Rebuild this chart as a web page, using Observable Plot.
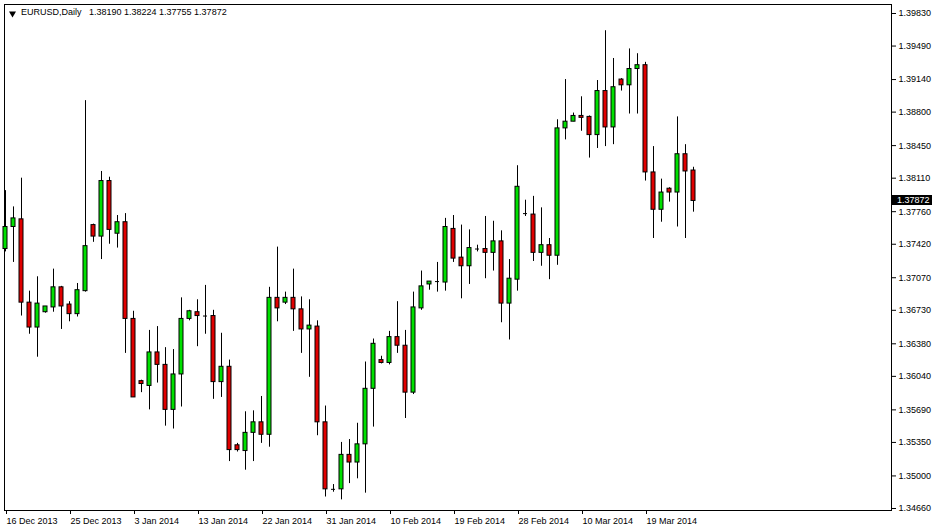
<!DOCTYPE html>
<html><head><meta charset="utf-8">
<script src="https://cdn.jsdelivr.net/npm/d3@7"></script>
<script src="https://cdn.jsdelivr.net/npm/@observablehq/plot@0.6"></script>
<style>
body{margin:0;background:#fff;}
#chart svg{display:block;}
</style>
</head><body><div id="chart"></div>
<script>
const symbolName = "EURUSD,Daily";
const lastQuote = [1.38190, 1.38224, 1.37755, 1.37872];

const dateLabels = ["16 Dec 2013","25 Dec 2013","3 Jan 2014","13 Jan 2014","22 Jan 2014","31 Jan 2014","10 Feb 2014","19 Feb 2014","28 Feb 2014","10 Mar 2014","19 Mar 2014"];
const dateTickBars = [0,8,16,24,32,40,48,56,64,72,80];
const priceTicks = [1.39830,1.39490,1.39140,1.38800,1.38450,1.38110,1.37760,1.37420,1.37070,1.36730,1.36380,1.36040,1.35690,1.35350,1.35000,1.34660];

const open = [
1.3737,1.3760,1.3768,1.3681,1.3655,1.3671,1.3676,1.3697,1.3679,1.3669,
1.3693,1.3762,1.3750,1.3808,1.3753,1.3765,1.3664,1.3599,1.3594,1.3629,
1.3616,1.3569,1.3606,1.3664,1.3671,1.3667,1.3667,1.3598,1.3614,1.3532,
1.3526,1.3545,1.3556,1.3543,1.3686,1.3681,1.3686,1.3674,1.3653,1.3656,
1.3556,1.3486,1.3486,1.3522,1.3514,1.3533,1.3591,1.3621,1.3618,1.3645,
1.3636,1.3587,1.3675,1.3700,1.3703,1.3702,1.3758,1.3728,1.3719,1.3737,
1.3737,1.3733,1.3745,1.3680,1.3705,1.3774,1.3773,1.3733,1.3741,1.3730,
1.3863,1.3870,1.3876,1.3875,1.3856,1.3902,1.3864,1.3914,1.3908,1.3925,
1.3929,1.3817,1.3778,1.3800,1.3796,1.3836,1.38190];
const high = [
1.3798,1.3781,1.3811,1.3693,1.3708,1.3677,1.3716,1.3698,1.3682,1.3701,
1.3892,1.3763,1.3818,1.3812,1.3772,1.3774,1.3672,1.3600,1.3652,1.3656,
1.3634,1.3632,1.3686,1.3673,1.3684,1.3699,1.3673,1.3649,1.3621,1.3534,
1.3567,1.3568,1.3583,1.3697,1.3739,1.3692,1.3716,1.3687,1.3684,1.3662,
1.3573,1.3491,1.3535,1.3538,1.3555,1.3619,1.3643,1.3625,1.3651,1.3682,
1.3652,1.3692,1.3714,1.3703,1.3723,1.3769,1.3772,1.3762,1.3757,1.3741,
1.3771,1.3766,1.3756,1.3726,1.3824,1.3788,1.3792,1.3780,1.3748,1.3872,
1.3914,1.3879,1.3896,1.3876,1.3913,1.3965,1.3936,1.3915,1.3946,1.3941,
1.3932,1.3844,1.3810,1.3801,1.3875,1.3846,1.38224];
const low = [
1.3734,1.3723,1.3667,1.3648,1.3624,1.3670,1.3671,1.3653,1.3661,1.3666,
1.3692,1.3744,1.3726,1.3742,1.3738,1.3628,1.3582,1.3587,1.3569,1.3597,
1.3552,1.3549,1.3572,1.3662,1.3635,1.3648,1.3580,1.3582,1.3515,1.3525,
1.3506,1.3515,1.3534,1.3530,1.3661,1.3679,1.3651,1.3628,1.3603,1.3542,
1.3478,1.3483,1.3475,1.3492,1.3497,1.3482,1.3551,1.3617,1.3616,1.3628,
1.3560,1.3585,1.3673,1.3694,1.3692,1.3693,1.3723,1.3685,1.3700,1.3734,
1.3706,1.3714,1.3660,1.3642,1.3693,1.3771,1.3724,1.3719,1.3705,1.3720,
1.3851,1.3870,1.3860,1.3832,1.3842,1.3844,1.3846,1.3902,1.3878,1.3878,
1.3808,1.3748,1.3765,1.3786,1.3760,1.3748,1.37755];
const close = [
1.3760,1.3769,1.3681,1.3655,1.3680,1.3677,1.3697,1.3677,1.3669,1.3694,
1.3740,1.3750,1.3808,1.3757,1.3765,1.3664,1.3582,1.3596,1.3629,1.3616,
1.3569,1.3606,1.3664,1.3672,1.3667,1.3667,1.3598,1.3614,1.3527,1.3527,
1.3545,1.3556,1.3543,1.3686,1.3675,1.3686,1.3674,1.3653,1.3657,1.3556,
1.3486,1.3486,1.3522,1.3514,1.3533,1.3591,1.3638,1.3618,1.3645,1.3636,
1.3587,1.3676,1.3698,1.3703,1.3703,1.3760,1.3727,1.3719,1.3738,1.3737,
1.3733,1.3745,1.3680,1.3706,1.3802,1.3774,1.3733,1.3741,1.3730,1.3863,
1.3870,1.3876,1.3874,1.3856,1.3902,1.3864,1.3906,1.3908,1.3925,1.3929,
1.3817,1.3778,1.3796,1.3796,1.3836,1.3818,1.37872];

const bullColor = "#00e000";
const bearColor = "#e00000";

const bars = open.map((o, i) => ({i, o, h: high[i], l: low[i], c: close[i]}));
const bulls = bars.filter(d => d.c > d.o);
const bears = bars.filter(d => d.c < d.o);
const dojis = bars.filter(d => d.c === d.o);
const half = 0.25;

const headerText = symbolName + "\u00a0\u00a0 " + lastQuote.map(v => v.toFixed(5)).join(" ");
const FONT = "'Liberation Sans', Arial, sans-serif";

const chart = Plot.plot({
  width: 935,
  height: 531,
  marginLeft: 4,
  marginTop: 4,
  marginRight: 44,
  marginBottom: 21,
  style: {fontFamily: FONT, fontSize: "9px", background: "#fff", color: "#000", overflow: "visible"},
  x: {type: "linear", domain: [-0.125, 110.75]},
  y: {domain: [1.34639, 1.39924]},
  marks: [
    Plot.frame({stroke: "#000"}),
    Plot.axisY({anchor: "right", ticks: priceTicks, tickFormat: d => d.toFixed(5), tickSize: 4, tickPadding: 3, label: null, fontSize: 9}),
    Plot.axisX({anchor: "bottom", ticks: dateTickBars, tickFormat: d => dateLabels[dateTickBars.indexOf(d)], tickSize: 4, tickPadding: 3, textAnchor: "start", dx: 1, label: null, fontSize: 9}),
    Plot.ruleX(bars, {x: "i", y1: "l", y2: "h", stroke: "#000", strokeWidth: 1}),
    Plot.rect(bulls, {x1: d => d.i - half, x2: d => d.i + half, y1: "o", y2: "c", fill: bullColor, stroke: "#000", strokeWidth: 1}),
    Plot.rect(bears, {x1: d => d.i - half, x2: d => d.i + half, y1: "o", y2: "c", fill: bearColor, stroke: "#000", strokeWidth: 1}),
    Plot.ruleY(dojis, {y: "c", x1: d => d.i - half, x2: d => d.i + half, stroke: "#000", strokeWidth: 1}),
    Plot.dot([0], {frameAnchor: "top-left", dx: 8, dy: 9, symbol: "triangle", r: 2.6, rotate: 180, fill: "#000", stroke: "none"}),
    Plot.text([headerText], {frameAnchor: "top-left", dx: 16.5, dy: 4, textAnchor: "start", lineAnchor: "top", fontSize: 9, fill: "#000"})
  ]
});

// Highlight the last close on the price axis using the chart's own y scale
const ys = chart.scale("y");
const yLast = Math.round(ys.apply(lastQuote[3]));
const svg = d3.select(chart);
const g = svg.append("g");
g.append("rect").attr("x", 891).attr("y", yLast - 5).attr("width", 41).attr("height", 10).attr("fill", "#000");
g.append("text").attr("x", 897).attr("y", yLast).attr("dy", "0.35em").attr("fill", "#fff")
  .attr("text-anchor", "start").attr("font-size", 9).attr("font-family", FONT).text(lastQuote[3].toFixed(5));

document.getElementById("chart").appendChild(chart);
</script>
</body></html>
